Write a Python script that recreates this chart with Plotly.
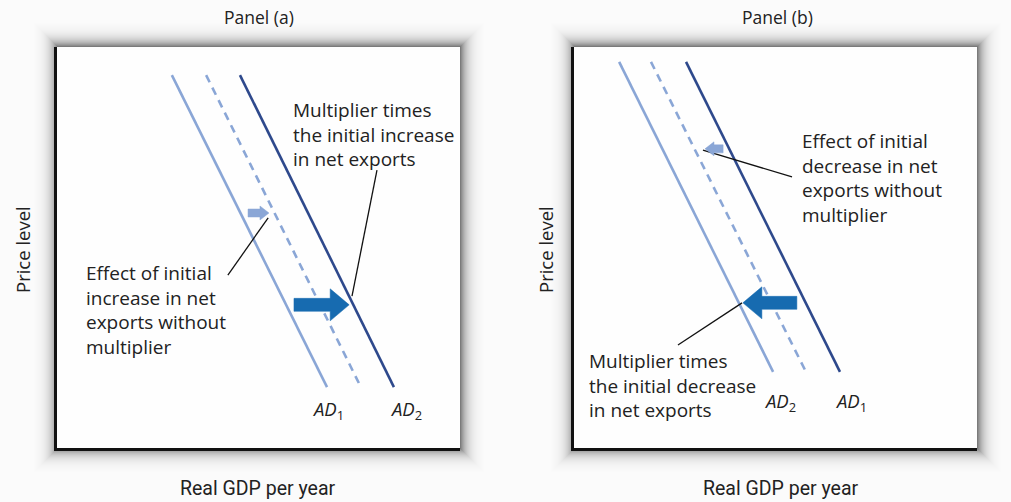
import math
import plotly.graph_objects as go

W, H = 1011, 502

# ---- data (abstract units, axes run 0..100) ----
# panel (a) curves: [x_top, x_bottom], [y_top, y_bottom]
a_ad1_x = [28.5, 67.0]; a_ad1_y = [93.0, 15.2]
a_mid_x = [37.0, 74.9]; a_mid_y = [93.0, 16.2]
a_ad2_x = [45.4, 83.6]; a_ad2_y = [93.0, 15.2]
# panel (b) curves
b_ad2_x = [11.2, 49.4]; b_ad2_y = [96.3, 19.0]
b_mid_x = [19.1, 57.3]; b_mid_y = [96.3, 19.5]
b_ad1_x = [27.8, 66.0]; b_ad1_y = [96.3, 19.0]
# arrows: tail x, tip x, y
a_small_arrow = [47.4, 52.6, 58.6]
a_big_arrow = [58.8, 72.5, 35.7]
b_small_arrow = [37.0, 32.5, 74.6]
b_big_arrow = [55.3, 41.9, 36.2]
# leader lines
a_lead1_x = [79.4, 73.2]; a_lead1_y = [69.3, 37.9]
a_lead2_x = [42.4, 52.4]; a_lead2_y = [43.1, 57.4]
b_lead1_x = [54.1, 32.0]; b_lead1_y = [67.6, 74.3]
b_lead2_x = [25.8, 41.7]; b_lead2_y = [25.7, 36.2]

# ---- layout geometry (pixels) ----
PA = dict(x0=57, x1=460, y0=47, y1=448)
PB = dict(x0=574, x1=977, y0=47, y1=448)

LIGHT = "#8aa6d6"
DARK = "#2e498c"
BIG = "#176bb0"
FONT = "Open Sans, Noto Sans, sans-serif"
NARROW = "Liberation Sans Narrow, Roboto, sans-serif"


def px(x):
    return x / W


def py(y):
    return 1 - y / H


def arrow_poly(tail, tip, y, t, h, L, panel):
    sx = 100.0 / (panel["x1"] - panel["x0"])
    sy = 100.0 / (panel["y1"] - panel["y0"])
    s = 1 if tip > tail else -1
    hb = tip - s * L * sx
    xs = [tail, hb, hb, tip, hb, hb, tail, tail]
    ys = [y - t * sy, y - t * sy, y - h * sy, y, y + h * sy, y + t * sy, y + t * sy, y - t * sy]
    return xs, ys


fig = go.Figure()


def line(xs, ys, color, width, dash, axis):
    fig.add_trace(go.Scatter(x=xs, y=ys, mode="lines", xaxis=axis[0], yaxis=axis[1],
                             line=dict(color=color, width=width, dash=dash),
                             hoverinfo="skip", showlegend=False))


def arrow(spec, color, t, h, L, panel, axis):
    xs, ys = arrow_poly(spec[0], spec[1], spec[2], t, h, L, panel)
    fig.add_trace(go.Scatter(x=xs, y=ys, mode="lines", fill="toself", fillcolor=color,
                             line=dict(color=color, width=0.5), xaxis=axis[0], yaxis=axis[1],
                             hoverinfo="skip", showlegend=False))


A = ("x", "y")
B = ("x2", "y2")

line(a_ad1_x, a_ad1_y, LIGHT, 2.6, "solid", A)
line(a_mid_x, a_mid_y, LIGHT, 2.6, "8px,6px", A)
line(a_ad2_x, a_ad2_y, DARK, 2.6, "solid", A)
line(a_lead1_x, a_lead1_y, "#111111", 1.3, "solid", A)
line(a_lead2_x, a_lead2_y, "#111111", 1.3, "solid", A)
arrow(a_small_arrow, LIGHT, 4, 7, 9, PA, A)
arrow(a_big_arrow, BIG, 6.5, 16, 19, PA, A)

line(b_ad2_x, b_ad2_y, LIGHT, 2.6, "solid", B)
line(b_mid_x, b_mid_y, LIGHT, 2.6, "8px,6px", B)
line(b_ad1_x, b_ad1_y, DARK, 2.6, "solid", B)
line(b_lead1_x, b_lead1_y, "#111111", 1.3, "solid", B)
line(b_lead2_x, b_lead2_y, "#111111", 1.3, "solid", B)
arrow(b_small_arrow, LIGHT, 4, 7, 9, PB, B)
arrow(b_big_arrow, BIG, 6.5, 16, 19, PB, B)


# soft drop shadow: stacked translucent rects giving an exponential fall-off
def shadow_alpha(d):
    return 0.58 * math.exp(-d / 6.5)


shapes = []
for P in (PA, PB):
    for d in range(26, 0, -1):
        c_in, c_out = shadow_alpha(d), shadow_alpha(d + 1)
        a = 1 - (1 - c_in) / (1 - c_out)
        shapes.append(dict(type="rect", xref="paper", yref="paper", layer="below",
                           x0=px(P["x0"] - d + 1), x1=px(P["x1"] + d),
                           y0=py(P["y1"] + d), y1=py(P["y0"] - d),
                           fillcolor="rgba(0,0,0,%.4f)" % a, line=dict(width=0)))
    shapes.append(dict(type="rect", xref="paper", yref="paper", layer="below",
                       x0=px(P["x0"]), x1=px(P["x1"]), y0=py(P["y1"]), y1=py(P["y0"]),
                       fillcolor="#fefefe", line=dict(width=0)))


def ann(text, x, y, size=19, xanchor="left", yanchor="top", align="left", font=FONT, angle=0):
    return dict(text=text, x=px(x), y=py(y), xref="paper", yref="paper", showarrow=False,
                xanchor=xanchor, yanchor=yanchor, align=align, textangle=angle,
                font=dict(family=font, size=size, color="#222222"))


annotations = [
    ann("Panel (a)", 259, 17, 17.5, "center", "middle", "center"),
    ann("Panel (b)", 777, 17, 17.5, "center", "middle", "center"),
    ann("Price level", 22, 250, 18.5, "center", "middle", "center", angle=-90),
    ann("Price level", 545, 250, 18.5, "center", "middle", "center", angle=-90),
    ann("Real GDP per year", 258, 488, 19.5, "center", "middle", "center", font=NARROW),
    ann("Real GDP per year", 781, 488, 19.5, "center", "middle", "center", font=NARROW),
    ann("Multiplier times<br>the initial increase<br>in net exports", 291, 95),
    ann("Effect of initial<br>increase in net<br>exports without<br>multiplier", 84, 258),
    ann("Effect of initial<br>decrease in net<br>exports without<br>multiplier", 800, 126),
    ann("Multiplier times<br>the initial decrease<br>in net exports", 587, 346),
    ann("<i>AD</i><sub>1</sub>", 328, 410, 18.5, "center", "middle", "center"),
    ann("<i>AD</i><sub>2</sub>", 406, 410, 18.5, "center", "middle", "center"),
    ann("<i>AD</i><sub>2</sub>", 780, 402, 18.5, "center", "middle", "center"),
    ann("<i>AD</i><sub>1</sub>", 851, 402, 18.5, "center", "middle", "center"),
]

axis_common = dict(range=[0, 100], showgrid=False, zeroline=False, showticklabels=False,
                   ticks="", showline=True, linecolor="#111111", linewidth=3, fixedrange=True)

fig.update_layout(
    width=W, height=H, margin=dict(l=0, r=0, t=0, b=0),
    paper_bgcolor="#fbfbfb", plot_bgcolor="rgba(0,0,0,0)",
    xaxis=dict(domain=[px(PA["x0"]), px(PA["x1"])], anchor="y", **axis_common),
    yaxis=dict(domain=[py(PA["y1"]), py(PA["y0"])], anchor="x", **axis_common),
    xaxis2=dict(domain=[px(PB["x0"]), px(PB["x1"])], anchor="y2", **axis_common),
    yaxis2=dict(domain=[py(PB["y1"]), py(PB["y0"])], anchor="x2", **axis_common),
    shapes=shapes, annotations=annotations, showlegend=False,
)

fig.write_html("out.html", config={"displayModeBar": False},
               post_script="document.body.style.margin='0';document.body.style.overflow='hidden';")
